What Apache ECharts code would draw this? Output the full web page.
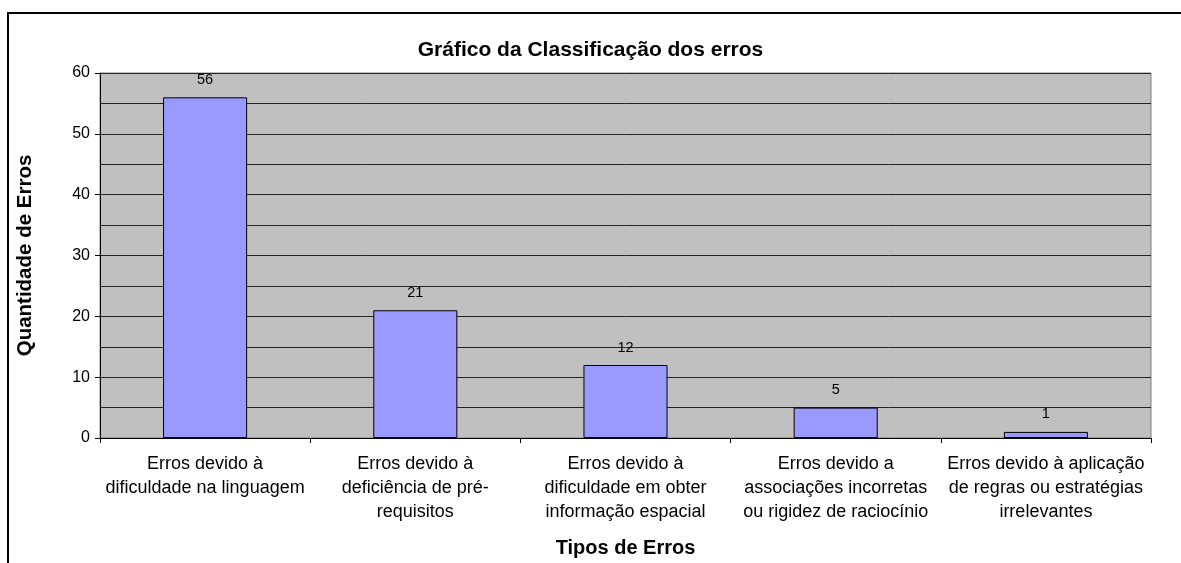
<!DOCTYPE html>
<html>
<head>
<meta charset="utf-8">
<script src="https://cdn.jsdelivr.net/npm/echarts@6/dist/echarts.min.js"></script>
<style>
html,body{margin:0;padding:0;background:#fff;}
#chart{width:1181px;height:563px;}
</style>
</head>
<body>
<div id="chart"></div>
<script>
var categories = [
  "Erros devido à\ndificuldade na linguagem",
  "Erros devido à\ndeficiência de pré-\nrequisitos",
  "Erros devido à\ndificuldade em obter\ninformação espacial",
  "Erros devido a\nassociações incorretas\nou rigidez de raciocínio",
  "Erros devido à aplicação\nde regras ou estratégias\nirrelevantes"
];
var values = [56, 21, 12, 5, 1];
var yTicks = [0, 10, 20, 30, 40, 50, 60];

var FONT = "'Liberation Sans', Arial, sans-serif";
var chart = echarts.init(document.getElementById('chart'), null, {renderer: 'canvas'});
chart.setOption({
  animation: false,
  backgroundColor: '#ffffff',
  title: {
    text: 'Gráfico da Classificação dos erros',
    left: 'center',
    top: 35,
    textStyle: {fontFamily: FONT, fontSize: 21, fontWeight: 'bold', color: '#000'}
  },
  graphic: [{
    type: 'rect',
    shape: {x: 8, y: 13, width: 1400, height: 800},
    style: {fill: 'none', stroke: '#000', lineWidth: 2},
    silent: true,
    z: 100
  }],
  grid: {
    left: 100, top: 73, right: 30, bottom: 125,
    show: true,
    backgroundColor: '#C0C0C0',
    borderColor: '#808080',
    borderWidth: 1
  },
  xAxis: {
    type: 'category',
    data: categories,
    name: 'Tipos de Erros',
    nameLocation: 'middle',
    nameGap: 100,
    nameTextStyle: {fontFamily: FONT, fontSize: 20, fontWeight: 'bold', color: '#000'},
    axisLine: {lineStyle: {color: '#000', width: 1}},
    axisTick: {show: true, length: 5, lineStyle: {color: '#000'}},
    axisLabel: {
      interval: 0,
      margin: 14,
      fontFamily: FONT, fontSize: 18, color: '#000',
      lineHeight: 24, align: 'center'
    }
  },
  yAxis: {
    type: 'value',
    min: yTicks[0],
    max: yTicks[yTicks.length - 1],
    interval: 10,
    name: 'Quantidade de Erros',
    nameLocation: 'middle',
    nameGap: 64,
    nameRotate: 90,
    nameTextStyle: {fontFamily: FONT, fontSize: 20.5, fontWeight: 'bold', color: '#000', padding: [8, 0, 0, 0]},
    axisLine: {show: true, lineStyle: {color: '#000', width: 1}},
    axisTick: {show: true, length: 5, lineStyle: {color: '#000'}},
    axisLabel: {fontFamily: FONT, fontSize: 16, color: '#000', margin: 10},
    splitLine: {show: true, lineStyle: {color: '#222', width: 1}},
    minorTick: {show: false, splitNumber: 2},
    minorSplitLine: {show: true, lineStyle: {color: '#222', width: 1}}
  },
  series: [{
    type: 'bar',
    data: values,
    barWidth: '40%',
    itemStyle: {color: '#9999FF', borderColor: '#000', borderWidth: 1},
    label: {
      show: true, position: 'top', distance: 10,
      fontFamily: FONT, fontSize: 14.5, color: '#000'
    }
  }]
});
</script>
</body>
</html>
